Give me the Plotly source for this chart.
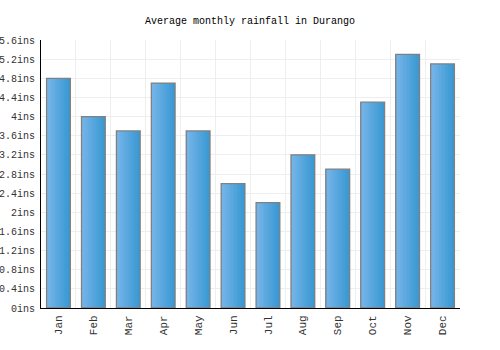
import plotly.graph_objects as go

months = ["Jan", "Feb", "Mar", "Apr", "May", "Jun", "Jul", "Aug", "Sep", "Oct", "Nov", "Dec"]
rainfall = [4.8, 4.0, 3.7, 4.7, 3.7, 2.6, 2.2, 3.2, 2.9, 4.3, 5.3, 5.1]
y_ticks = [round(i * 0.4, 1) for i in range(15)]
y_labels = [("%g" % v) + "ins" for v in y_ticks]

font = "Liberation Mono, monospace"
bar_w = 0.68
n_slices = 16
c0 = (118, 182, 234)
c1 = (58, 152, 210)

fig = go.Figure()
for i in range(n_slices):
    t = i / (n_slices - 1)
    col = "rgb(%d,%d,%d)" % tuple(round(a + (b - a) * t) for a, b in zip(c0, c1))
    fig.add_trace(go.Bar(
        x=months, y=rainfall, width=bar_w / n_slices,
        offset=-bar_w / 2 + i * bar_w / n_slices,
        marker=dict(color=col, line=dict(width=0)), hoverinfo="skip",
    ))
fig.add_trace(go.Bar(
    x=months, y=rainfall, width=bar_w, offset=-bar_w / 2,
    marker=dict(color="rgba(0,0,0,0)", line=dict(color="#808080", width=1.3)),
))
fig.update_layout(
    width=500, height=350,
    margin=dict(l=41, r=40, t=40, b=42),
    paper_bgcolor="white", plot_bgcolor="white",
    title=dict(text="Average monthly rainfall in Durango", x=0.5, xanchor="center",
               y=1 - 20 / 350, yanchor="middle",
               font=dict(family=font, size=10, color="#000")),
    font=dict(family=font, size=10, color="#333"),
    showlegend=False,
    barmode="overlay",
)
fig.update_xaxes(
    type="category", tickson="boundaries", showgrid=True, gridcolor="#eeeeee",
    tickangle=-90, showline=True, linecolor="#000", linewidth=1, ticks="",
    automargin=False, ticklabelstandoff=2,
    tickfont=dict(family=font, size=11, color="#333"),
)
fig.update_yaxes(
    range=[0, 5.6], tickvals=y_ticks, ticktext=y_labels, showgrid=True, gridcolor="#eeeeee",
    showline=True, linecolor="#000", linewidth=1, ticks="", zeroline=False,
    automargin=False, ticklabelstandoff=3,
    tickfont=dict(family=font, size=10, color="#333"),
)
fig.write_html("out.html")
